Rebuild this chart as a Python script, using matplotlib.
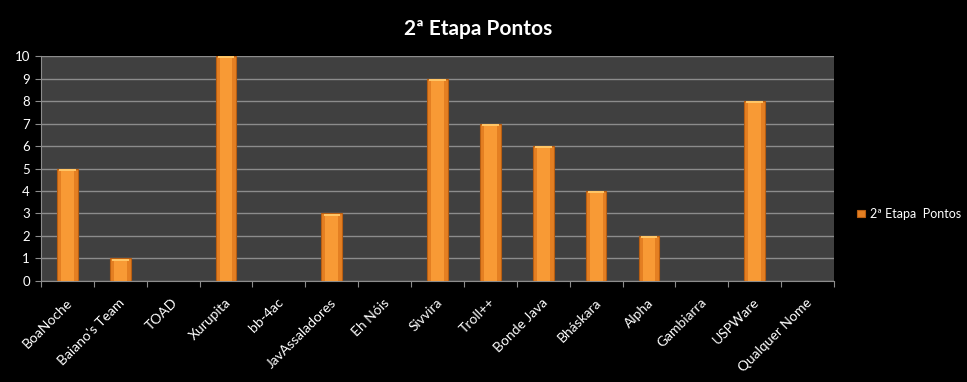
import matplotlib
matplotlib.use("Agg")
import matplotlib.pyplot as plt
import numpy as np

categories = ["BoaNoche", "Baiano's Team", "TOAD", "Xurupita", "bb-4ac", "JavAssaladores",
              "Eh Nóis", "Sivvira", "Troll++", "Bonde Java", "Bháskara", "Alpha",
              "Gambiarra", "USPWare", "Qualquer Nome"]
values = [5, 1, 0, 10, 0, 3, 0, 9, 7, 6, 4, 2, 0, 8, 0]
series_name = "2ª Etapa  Pontos"
title = "2ª Etapa Pontos"
yticks = list(range(0, 11))

plt.rcParams['font.family'] = ['Lato', 'DejaVu Sans']

fig = plt.figure(figsize=(9.67, 3.82), dpi=100, facecolor="black")
ax = fig.add_axes([0.0424, 0.2644, 0.8201, 0.589])
ax.set_facecolor("#404040")

x = np.arange(len(categories))
w = 0.39
mask = [v > 0 for v in values]
xs = x[mask]
vs = np.array(values)[mask]
bars = ax.bar(xs, vs, width=w, color="#E47F22", edgecolor="#B85E12", linewidth=0.8, zorder=3,
              label=series_name)
ax.bar(xs, vs - 0.1, width=w * 0.62, color="#F89A35", linewidth=0, zorder=4)
ax.bar(xs, np.full(len(vs), 0.08), bottom=vs - 0.1, width=w * 0.8, color="#FFC565", linewidth=0, zorder=5)

ax.set_xlim(-0.5, len(categories) - 0.5)
ax.set_ylim(0, 10)
ax.set_yticks(yticks)
ax.set_yticklabels([str(t) for t in yticks], color="white", fontsize=9.5)
ax.yaxis.grid(True, color="#8C8C8C", linewidth=1, zorder=0)
ax.set_axisbelow(True)

ax.set_xticks(np.arange(len(categories) + 1) - 0.5)
ax.set_xticklabels([])
ax.set_xticks(x + 0.05, minor=True)
ax.set_xticklabels(categories, minor=True, rotation=45, ha="right", va="center",
                   rotation_mode="anchor", color="white", fontsize=10)
ax.tick_params(axis="x", which="minor", length=0, pad=14)
ax.tick_params(axis="x", which="major", length=4, color="#8C8C8C", direction="out")
ax.tick_params(axis="y", length=4, color="#8C8C8C", direction="out", pad=4)

for s in ["top", "right"]:
    ax.spines[s].set_visible(False)
for s in ["left", "bottom"]:
    ax.spines[s].set_color("#8C8C8C")

fig.text(0.494, 0.925, title, color="white", fontsize=15, fontweight="bold", ha="center", va="center")

leg = fig.legend(handles=[bars], labels=[series_name], loc="center left",
                 bbox_to_anchor=(0.875, 0.44), frameon=False, fontsize=9,
                 handlelength=0.6, handleheight=0.6, handletextpad=0.4)
for t in leg.get_texts():
    t.set_color("white")

fig.savefig("out.png", dpi=100, facecolor="black")
